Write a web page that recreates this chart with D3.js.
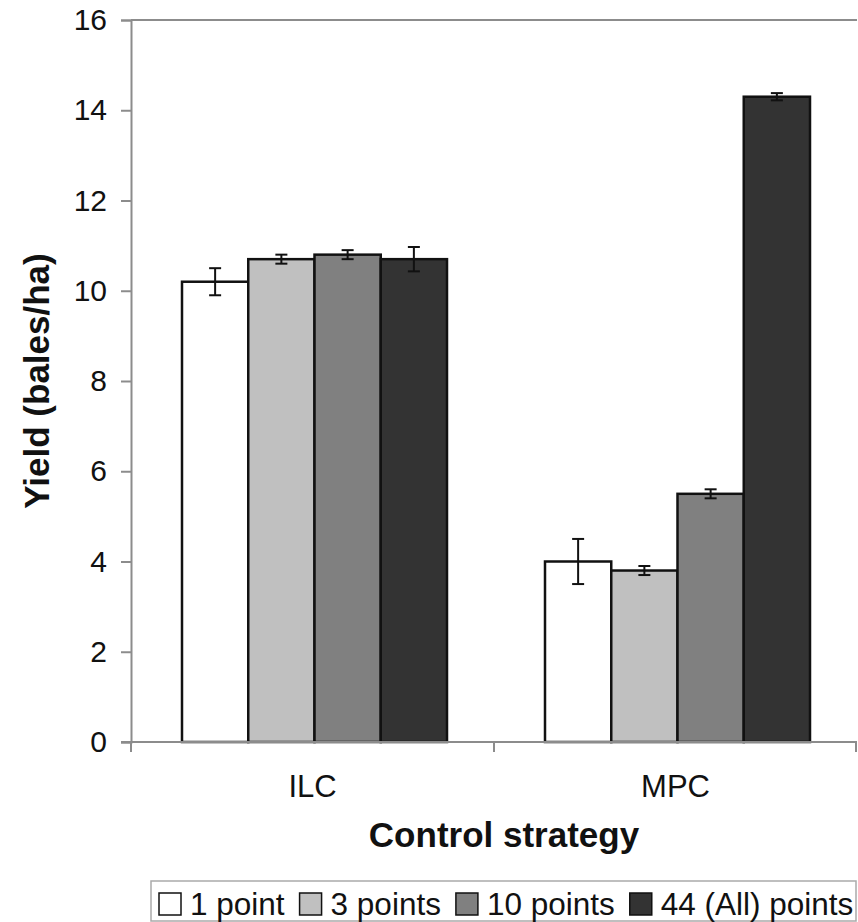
<!DOCTYPE html>
<html>
<head>
<meta charset="utf-8">
<script src="https://cdn.jsdelivr.net/npm/d3@7"></script>
<style>
  body { margin: 0; background: #fff; }
  svg { font-family: "Liberation Sans", Arial, sans-serif; }
</style>
</head>
<body>
<div id="chart"></div>
<script>
// data
var strategies = ["ILC", "MPC"];
var seriesNames = ["1 point", "3 points", "10 points", "44 (All) points"];
var seriesColors = ["#ffffff", "#c0c0c0", "#808080", "#333333"];
var ilcValues = [10.2, 10.7, 10.8, 10.7];
var ilcErrors = [0.3, 0.1, 0.1, 0.27];
var mpcValues = [4.0, 3.8, 5.5, 14.3];
var mpcErrors = [0.5, 0.1, 0.1, 0.08];
var yTicks = [0, 2, 4, 6, 8, 10, 12, 14, 16];

var width = 858, height = 922;
var plotLeft = 131, plotRight = 857, plotTop = 20, plotBottom = 742;

var rows = [
  {cat: "ILC", values: ilcValues, errors: ilcErrors},
  {cat: "MPC", values: mpcValues, errors: mpcErrors}
];

var svg = d3.select("#chart").append("svg")
  .attr("width", width)
  .attr("height", height);

var y = d3.scaleLinear().domain([0, 16]).range([plotBottom, plotTop]);
var x0 = d3.scaleBand().domain(strategies).range([plotLeft, plotRight]);
var x1 = d3.scaleBand().domain(seriesNames).range([51, 51 + 265]);

// top border of plot area
svg.append("line")
  .attr("x1", plotLeft).attr("x2", plotRight)
  .attr("y1", plotTop).attr("y2", plotTop)
  .attr("stroke", "#8c8c8c").attr("stroke-width", 2);

// y axis
var yAxis = svg.append("g")
  .attr("transform", "translate(" + plotLeft + ",0)")
  .call(d3.axisLeft(y).tickValues(yTicks).tickSize(10).tickPadding(14));
yAxis.select(".domain").attr("stroke", "#8c8c8c").attr("stroke-width", 2);
yAxis.selectAll(".tick line").attr("stroke", "#8c8c8c").attr("stroke-width", 2);
yAxis.selectAll(".tick text")
  .attr("font-size", 30).attr("fill", "#111")
  .attr("font-family", "Liberation Sans, Arial, sans-serif");

// bars
var groups = svg.selectAll(".grp")
  .data(rows)
  .enter().append("g")
  .attr("class", "grp")
  .attr("transform", function(d) { return "translate(" + x0(d.cat) + ",0)"; });

groups.selectAll("rect")
  .data(function(d) { return d.values.map(function(v, i) { return {name: seriesNames[i], v: v, e: d.errors[i], i: i}; }); })
  .enter().append("rect")
  .attr("x", function(d) { return x1(d.name); })
  .attr("width", x1.bandwidth())
  .attr("y", function(d) { return y(d.v); })
  .attr("height", function(d) { return y(0) - y(d.v); })
  .attr("fill", function(d) { return seriesColors[d.i]; })
  .attr("stroke", "#111")
  .attr("stroke-width", 2.5);

// error bars
var err = groups.selectAll(".err")
  .data(function(d) { return d.values.map(function(v, i) { return {name: seriesNames[i], v: v, e: d.errors[i]}; }); })
  .enter().append("g")
  .attr("class", "err")
  .attr("stroke", "#111")
  .attr("stroke-width", 2);
err.append("line")
  .attr("x1", function(d) { return x1(d.name) + x1.bandwidth() / 2; })
  .attr("x2", function(d) { return x1(d.name) + x1.bandwidth() / 2; })
  .attr("y1", function(d) { return y(d.v + d.e); })
  .attr("y2", function(d) { return y(d.v - d.e); });
[1, -1].forEach(function(s) {
  err.append("line")
    .attr("x1", function(d) { return x1(d.name) + x1.bandwidth() / 2 - 6; })
    .attr("x2", function(d) { return x1(d.name) + x1.bandwidth() / 2 + 6; })
    .attr("y1", function(d) { return y(d.v + s * d.e); })
    .attr("y2", function(d) { return y(d.v + s * d.e); });
});

// x axis
var xAxis = svg.append("g")
  .attr("transform", "translate(0," + plotBottom + ")")
  .call(d3.axisBottom(x0).tickSize(0).tickPadding(0));
xAxis.select(".domain").remove();
xAxis.append("line")
  .attr("x1", plotLeft - 10).attr("x2", plotRight)
  .attr("stroke", "#8c8c8c").attr("stroke-width", 2);
xAxis.selectAll(".sep")
  .data([plotLeft, x0("MPC"), plotRight - 1])
  .enter().append("line")
  .attr("x1", function(d) { return d; }).attr("x2", function(d) { return d; })
  .attr("y1", 0).attr("y2", 10)
  .attr("stroke", "#8c8c8c").attr("stroke-width", 2);
xAxis.selectAll(".tick text")
  .attr("font-size", 31).attr("fill", "#111")
  .attr("font-family", "Liberation Sans, Arial, sans-serif")
  .attr("dy", 0).attr("y", 55);

// axis titles
svg.append("text")
  .attr("x", (plotLeft + plotRight) / 2 + 10).attr("y", 847)
  .attr("text-anchor", "middle")
  .attr("font-size", 35).attr("font-weight", "bold").attr("fill", "#111")
  .text("Control strategy");

svg.append("text")
  .attr("transform", "translate(49,381) rotate(-90)")
  .attr("text-anchor", "middle")
  .attr("font-size", 35).attr("font-weight", "bold").attr("fill", "#111")
  .text("Yield (bales/ha)");

// legend
var legend = svg.append("g");
legend.append("rect")
  .attr("x", 151).attr("y", 881).attr("width", 705).attr("height", 40)
  .attr("fill", "none").attr("stroke", "#aaa").attr("stroke-width", 1.5);
var lx = 159;
seriesNames.forEach(function(name, i) {
  legend.append("rect")
    .attr("x", lx).attr("y", 893).attr("width", 22).attr("height", 22)
    .attr("fill", seriesColors[i]).attr("stroke", "#111").attr("stroke-width", 1.5);
  var t = legend.append("text")
    .attr("x", lx + 31).attr("y", 915)
    .attr("font-size", 31.5).attr("fill", "#111")
    .text(name);
  lx += 31 + t.node().getComputedTextLength() + 15;
});
</script>
</body>
</html>
